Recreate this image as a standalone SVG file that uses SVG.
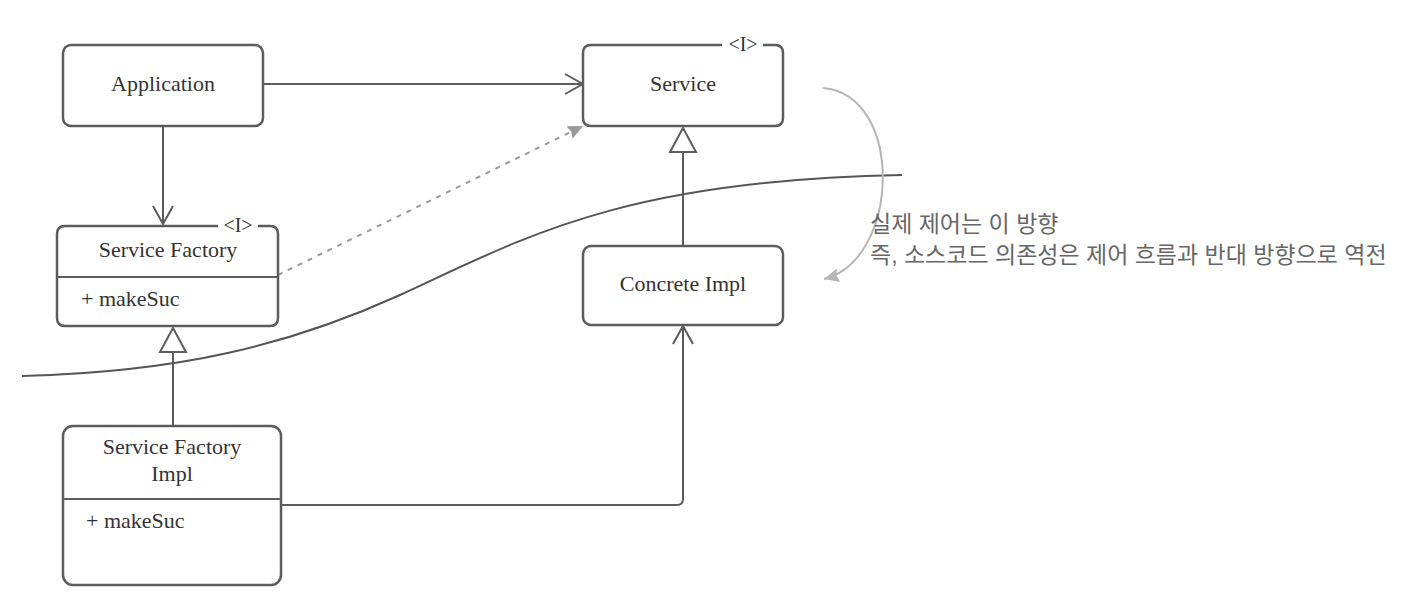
<svg xmlns="http://www.w3.org/2000/svg" width="1404" height="612" viewBox="0 0 1404 612">
<style>
.box{fill:#fff;stroke:#5c5c5c;stroke-width:2.5}
.ln{fill:none;stroke:#5c5c5c;stroke-width:2}
.t{font-family:"Liberation Serif",serif;font-size:22px;fill:#333}
.tc{text-anchor:middle}
.st{font-family:"Liberation Serif",serif;font-size:20px;fill:#333;text-anchor:middle}
.kr{font-family:"Liberation Sans","Noto Sans CJK KR",sans-serif;font-size:23px;fill:#666}
</style>
<defs>
<marker id="open" viewBox="0 0 20 24" refX="19" refY="12" markerWidth="20" markerHeight="24" markerUnits="userSpaceOnUse" orient="auto">
<path d="M1,2 L19,12 L1,22" fill="none" stroke="#5c5c5c" stroke-width="2"/>
</marker>
<marker id="tri" viewBox="0 0 26 30" refX="25" refY="15" markerWidth="26" markerHeight="30" markerUnits="userSpaceOnUse" orient="auto">
<path d="M25,15 L1,2 L1,28 Z" fill="#fff" stroke="#5c5c5c" stroke-width="2"/>
</marker>
<marker id="fillg" viewBox="0 0 16 14" refX="15" refY="7" markerWidth="16" markerHeight="14" markerUnits="userSpaceOnUse" orient="auto">
<path d="M15,7 L0,0 L2,7 L0,14 Z" fill="#999"/>
</marker>
<marker id="fillg2" viewBox="0 0 16 14" refX="15" refY="7" markerWidth="16" markerHeight="14" markerUnits="userSpaceOnUse" orient="auto">
<path d="M15,7 L0,0 L2,7 L0,14 Z" fill="#b5b5b5"/>
</marker>
</defs>

<path id="boundary" d="M22,376 C180,372 290,345 400,295 C520,240 620,180 902,175" fill="none" stroke="#555" stroke-width="2"/>

<g id="connectors">
<path class="ln" d="M263,84 L583,84" marker-end="url(#open)"/>
<path class="ln" d="M163,126 L163,224" marker-end="url(#open)"/>
<path d="M278,275 L583,126" fill="none" stroke="#999" stroke-width="2" stroke-dasharray="5,6" marker-end="url(#fillg)"/>
<path class="ln" d="M683,246 L683,128" marker-end="url(#tri)"/>
<path class="ln" d="M173,426 L173,328" marker-end="url(#tri)"/>
<path class="ln" d="M281,505 L677,505 Q683,505 683,499 L683,326" marker-end="url(#open)"/>
<path d="M823,88 C905,95 900,260 824,279" fill="none" stroke="#b5b5b5" stroke-width="2" marker-end="url(#fillg2)"/>
</g>

<g id="application">
<rect class="box" x="63" y="45" width="200" height="81" rx="8"/>
<text class="t tc" x="163" y="91">Application</text>
</g>

<g id="service">
<path class="box" d="M722,45 L591,45 Q583,45 583,53 L583,118 Q583,126 591,126 L775,126 Q783,126 783,118 L783,53 Q783,45 775,45 L763,45"/>
<text class="st" x="743" y="51">&lt;I&gt;</text>
<text class="t tc" x="683" y="91">Service</text>
</g>

<g id="service-factory">
<path class="box" d="M218,226 L65,226 Q57,226 57,234 L57,318 Q57,326 65,326 L270,326 Q278,326 278,318 L278,234 Q278,226 270,226 L258,226"/>
<line class="ln" x1="57" y1="277" x2="278" y2="277" stroke-width="2.5"/>
<text class="st" x="238" y="232">&lt;I&gt;</text>
<text class="t tc" x="168" y="257">Service Factory</text>
<text class="t" x="81" y="306">+ makeSuc</text>
</g>

<g id="concrete-impl">
<rect class="box" x="583" y="246" width="200" height="79" rx="8"/>
<text class="t tc" x="683" y="291">Concrete Impl</text>
</g>

<g id="service-factory-impl">
<rect class="box" x="63" y="426" width="218" height="159" rx="10"/>
<line class="ln" x1="63" y1="499" x2="281" y2="499" stroke-width="2.5"/>
<text class="t tc" x="172" y="454">Service Factory</text>
<text class="t tc" x="172" y="481">Impl</text>
<text class="t" x="86" y="528">+ makeSuc</text>
</g>

<g id="note">
<text class="kr" x="870" y="232">실제 제어는 이 방향</text>
<text class="kr" x="870" y="263">즉, 소스코드 의존성은 제어 흐름과 반대 방향으로 역전</text>
</g>
</svg>
